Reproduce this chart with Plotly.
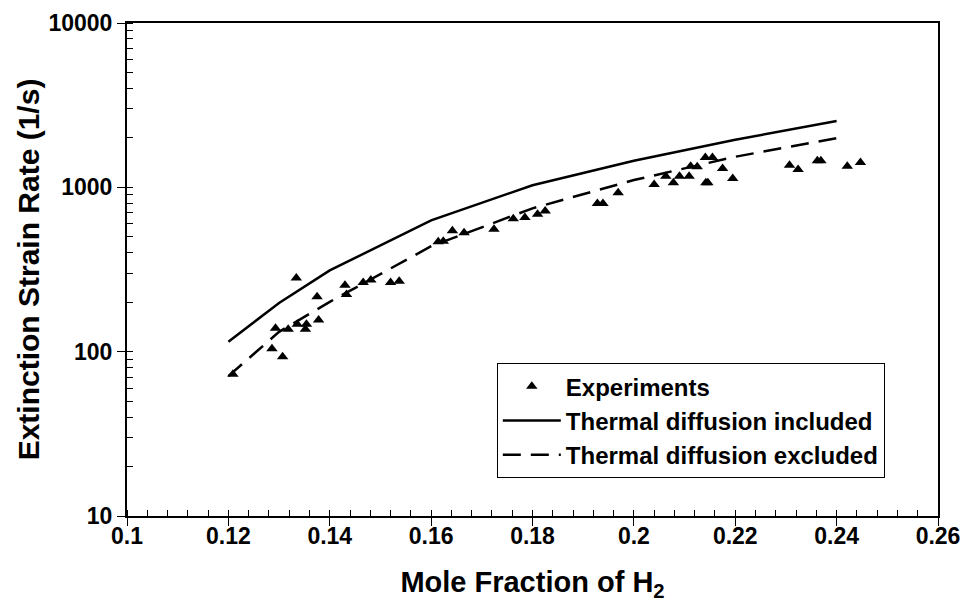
import plotly.graph_objects as go

# Experiments
exp_x = [0.1209, 0.1286, 0.1293, 0.1307, 0.1318, 0.1334, 0.1336, 0.1352, 0.1354, 0.1375,
         0.1378, 0.1430, 0.1433, 0.1466, 0.1481, 0.1520, 0.1537, 0.1614, 0.1624, 0.1642,
         0.1665, 0.1724, 0.1762, 0.1785, 0.1810, 0.1825, 0.1928, 0.1939, 0.1969, 0.2040,
         0.2063, 0.2078, 0.2090, 0.2109, 0.2112, 0.2125, 0.2141, 0.2155, 0.2142, 0.2146,
         0.2175, 0.2195, 0.2307, 0.2324, 0.2362, 0.2369, 0.2421, 0.2447]
exp_y = [73, 104, 139, 93, 137, 281, 147, 137, 147, 216,
         156, 254, 223, 264, 273, 264, 268, 466, 470, 544,
         529, 555, 643, 656, 687, 719, 798, 798, 927, 1041,
         1170, 1065, 1170, 1170, 1346, 1336, 1521, 1521, 1065, 1065,
         1303, 1133, 1365, 1285, 1449, 1449, 1346, 1416]

# Model curves
inc_x = [0.12, 0.13, 0.14, 0.16, 0.18, 0.20, 0.22, 0.24]
inc_y = [115, 198, 312, 630, 1030, 1450, 1950, 2530]
exc_x = [0.12, 0.13, 0.14, 0.16, 0.18, 0.20, 0.22, 0.24]
exc_y = [71, 132, 201, 438, 745, 1107, 1535, 1990]

x_ticks = [0.1, 0.12, 0.14, 0.16, 0.18, 0.2, 0.22, 0.24, 0.26]
x_ticklabels = ["0.1", "0.12", "0.14", "0.16", "0.18", "0.2", "0.22", "0.24", "0.26"]
y_ticks = [10, 100, 1000, 10000]
y_ticklabels = ["10", "100", "1000", "10000"]

FONT = "Liberation Sans, Arial, sans-serif"

fig = go.Figure()
fig.add_trace(go.Scatter(x=exp_x, y=exp_y, mode="markers", name="<b>Experiments</b>",
                         marker=dict(symbol="triangle-up", size=10, color="black")))
fig.add_trace(go.Scatter(x=inc_x, y=inc_y, mode="lines", name="<b>Thermal diffusion included</b>",
                         line=dict(color="black", width=2.5)))
fig.add_trace(go.Scatter(x=exc_x, y=exc_y, mode="lines", name="<b>Thermal diffusion excluded</b>",
                         line=dict(color="black", width=2.5, dash="18px,10px")))

fig.update_layout(
    width=966, height=608,
    margin=dict(l=127, r=28, t=23, b=92),
    paper_bgcolor="white", plot_bgcolor="white",
    font=dict(family=FONT, size=22, color="black"),
    showlegend=True,
    legend=dict(x=0.456, y=0.31, xanchor="left", yanchor="top",
                bordercolor="black", borderwidth=1, bgcolor="white",
                font=dict(size=24, family=FONT), tracegroupgap=0,
                itemwidth=58),
)
fig.update_xaxes(
    range=[0.1, 0.26], tickvals=x_ticks, ticktext=["<b>%s</b>" % t for t in x_ticklabels],
    ticks="outside", ticklen=8, tickwidth=1, tickcolor="black",
    showline=True, linecolor="black", linewidth=2, mirror=True,
    showgrid=False, zeroline=False, automargin=False,
    ticklabelstandoff=-10,
    minor=dict(ticks="inside", ticklen=6, tickcolor="black", dtick=0.004, showgrid=False),
    title=dict(text="<b>Mole Fraction of H<sub>2</sub></b>", font=dict(size=29, family=FONT), standoff=24),
    tickfont=dict(size=23, family=FONT),
)
fig.update_yaxes(
    type="log", range=[1, 4], tickvals=y_ticks, ticktext=["<b>%s</b>" % t for t in y_ticklabels],
    ticks="outside", ticklen=8, tickwidth=1, tickcolor="black",
    showline=True, linecolor="black", linewidth=2, mirror=True,
    showgrid=False, zeroline=False, automargin=False,
    minor=dict(ticks="inside", ticklen=6, tickcolor="black", dtick="D1", showgrid=False),
    title=dict(text="<b>Extinction Strain Rate (1/s)</b>", font=dict(size=30, family=FONT), standoff=0),
    tickfont=dict(size=23, family=FONT),
)

fig.write_html("out.html")
